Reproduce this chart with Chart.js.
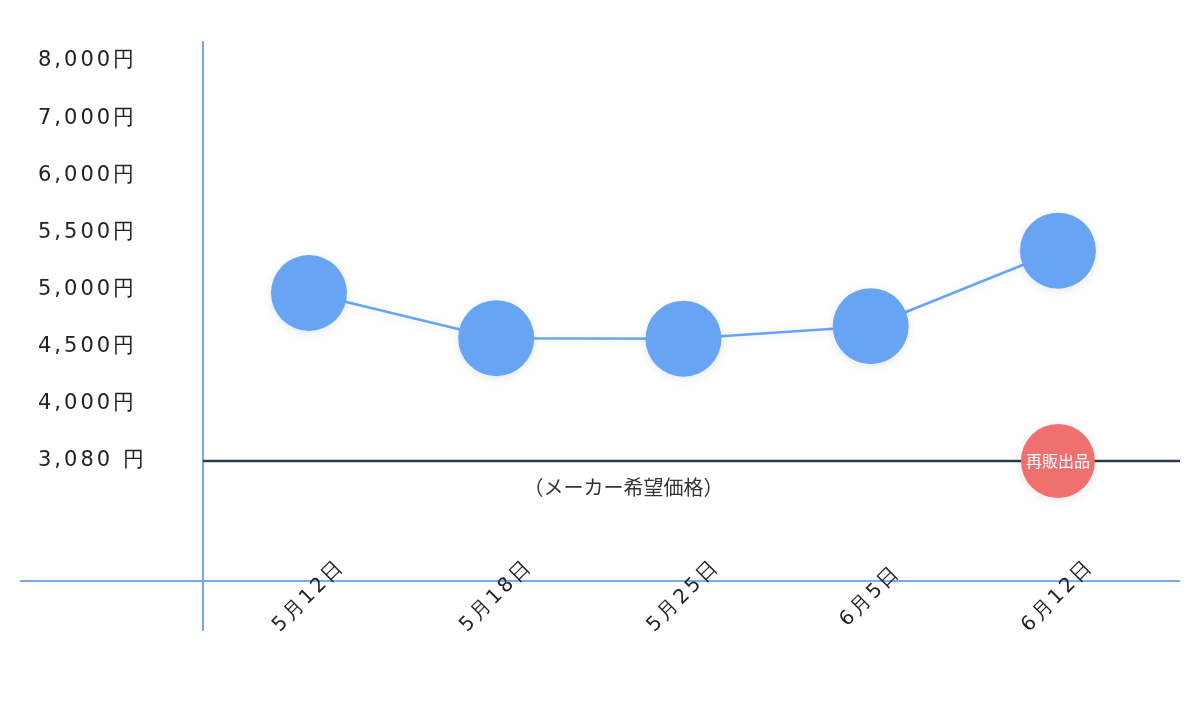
<!DOCTYPE html>
<html lang="ja">
<head>
<meta charset="UTF-8">
<title>価格推移</title>
<script src="https://cdn.jsdelivr.net/npm/chart.js@4.4.1/dist/chart.umd.min.js"></script>
<style>
  html, body { margin: 0; padding: 0; background: #fff; overflow: hidden; }
  #wrap { width: 1200px; height: 715px; }
  canvas { display: block; }
</style>
</head>
<body>
<div id="wrap"><canvas id="priceChart" width="1200" height="715"></canvas></div>
<script>
// Chart data
const dateLabels = ['5月12日', '5月18日', '5月25日', '6月5日', '6月12日'];
const prices = [4970, 4575, 4570, 4680, 5340];
const tickPrices = [3080, 4000, 4500, 5000, 5500, 6000, 7000, 8000];
const tickLabels = ['3,080 円', '4,000円', '4,500円', '5,000円', '5,500円', '6,000円', '7,000円', '8,000円'];
const makerPrice = 3080;
const makerLabel = '（メーカー希望価格）';
const resaleIndex = 4;
const resaleLabel = '再販出品';

const BLUE = '#68a4f4';
const AXIS_BLUE = '#78a9ef';
const RED = '#f07070';
const DARK = '#2c3a4c';
const FONT = '"DejaVu Sans", sans-serif';
const JP_FONT = '"Noto Sans CJK JP", sans-serif';

// The y axis ticks are evenly spaced, so map a price onto its tick position
function priceToPos(p) {
    for (let i = 0; i < tickPrices.length - 2; i++) {
        if (p <= tickPrices[i + 1]) {
            return i + (p - tickPrices[i]) / (tickPrices[i + 1] - tickPrices[i]);
        }
    }
    const n = tickPrices.length - 2;
    return n + (p - tickPrices[n]) / (tickPrices[n + 1] - tickPrices[n]);
}

const X_AXIS_POS = -2.1;   // where the horizontal axis crosses, in tick positions

// Extra drawing: crossing axis line, maker price line, rotated date labels
const decorPlugin = {
    id: 'decor',
    beforeDraw(chart) {
        chart.ctx.letterSpacing = '3px';
    },
    beforeDatasetsDraw(chart) {
        const { ctx, chartArea, scales: { x, y } } = chart;
        ctx.letterSpacing = '0px';
        ctx.save();

        const axisY = y.getPixelForValue(X_AXIS_POS);
        ctx.strokeStyle = AXIS_BLUE;
        ctx.lineWidth = 2;
        ctx.beginPath();
        ctx.moveTo(20, axisY);
        ctx.lineTo(chartArea.right, axisY);
        ctx.stroke();

        const mpY = y.getPixelForValue(priceToPos(makerPrice));
        ctx.strokeStyle = DARK;
        ctx.lineWidth = 2.5;
        ctx.beginPath();
        ctx.moveTo(chartArea.left, mpY);
        ctx.lineTo(chartArea.right, mpY);
        ctx.stroke();

        ctx.fillStyle = '#333';
        ctx.font = '20px ' + JP_FONT;
        ctx.textAlign = 'center';
        ctx.textBaseline = 'middle';
        ctx.fillText(makerLabel, x.getPixelForValue(1.68), mpY + 26);
        ctx.restore();
    },
    beforeDatasetDraw(chart) {
        const ctx = chart.ctx;
        ctx.save();
        ctx.shadowColor = 'rgba(0, 0, 0, 0.10)';
        ctx.shadowBlur = 10;
        ctx.shadowOffsetY = 2;
    },
    afterDatasetDraw(chart) {
        chart.ctx.restore();
    },
    afterDraw(chart) {
        const { ctx, scales: { x, y } } = chart;
        ctx.save();

        // date labels, rotated and centred under each point
        ctx.letterSpacing = '3px';
        ctx.fillStyle = '#222';
        ctx.font = '20px ' + FONT;
        ctx.textAlign = 'center';
        ctx.textBaseline = 'middle';
        const labelY = y.getPixelForValue(X_AXIS_POS) + 15;
        dateLabels.forEach((label, i) => {
            ctx.save();
            ctx.translate(x.getPixelForValue(i), labelY);
            ctx.rotate(-Math.PI / 4);
            ctx.fillText(label, 0, 0);
            ctx.restore();
        });

        // text inside the resale marker
        const pt = chart.getDatasetMeta(1).data[0];
        ctx.letterSpacing = '0px';
        ctx.fillStyle = '#fff';
        ctx.font = '16px ' + JP_FONT;
        ctx.fillText(resaleLabel, pt.x, pt.y);
        ctx.restore();
    }
};

const ctx = document.getElementById('priceChart').getContext('2d');
new Chart(ctx, {
    type: 'line',
    data: {
        datasets: [{
            label: '価格',
            data: prices.map((p, i) => ({ x: i, y: priceToPos(p) })),
            borderColor: BLUE,
            borderWidth: 2.5,
            backgroundColor: BLUE,
            pointBackgroundColor: BLUE,
            pointBorderWidth: 0,
            pointRadius: 38,
            pointHoverRadius: 38,
            tension: 0
        }, {
            label: resaleLabel,
            data: [{ x: resaleIndex, y: priceToPos(makerPrice) }],
            showLine: false,
            pointBackgroundColor: RED,
            pointBorderWidth: 0,
            pointRadius: 37,
            pointHoverRadius: 37
        }]
    },
    options: {
        responsive: false,
        animation: false,
        layout: {
            autoPadding: false,
            padding: { left: 38, right: 20, top: 42, bottom: 85 }
        },
        scales: {
            x: {
                type: 'linear',
                display: false,
                min: -0.566,
                max: 4.652
            },
            y: {
                type: 'linear',
                min: -2.958,
                max: 7.333,
                afterBuildTicks: (scale) => {
                    scale.ticks = tickLabels.map((_, i) => ({ value: i }));
                },
                afterFit: (scale) => { scale.width = 165; },
                grid: { display: false },
                border: { display: true, color: AXIS_BLUE, width: 2 },
                ticks: {
                    autoSkip: false,
                    crossAlign: 'far',
                    color: '#222',
                    font: { family: FONT, size: 21 },
                    callback: (value) => tickLabels[value]
                }
            }
        },
        plugins: {
            legend: { display: false },
            tooltip: { enabled: false }
        }
    },
    plugins: [decorPlugin]
});
</script>
</body>
</html>
